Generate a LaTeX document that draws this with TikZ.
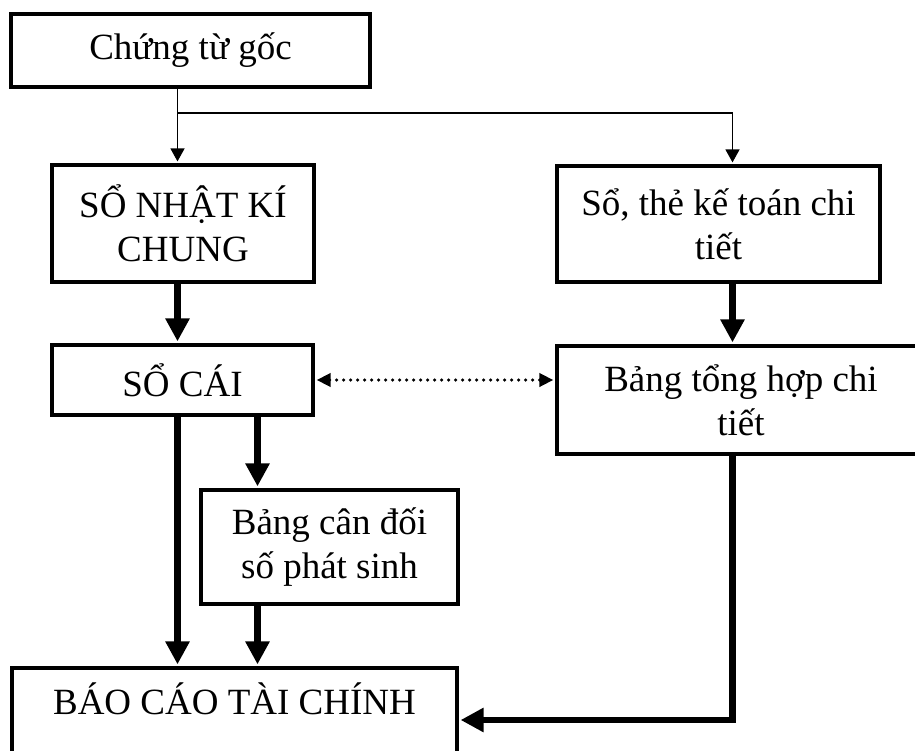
\documentclass[tikz,border=0pt]{standalone}
\usepackage{fontspec}
\setmainfont{Liberation Serif}
\usetikzlibrary{arrows.meta}
\begin{document}
\begin{tikzpicture}[x=1pt,y=-1pt,
  box/.style={draw, line width=3.6pt, rectangle, inner sep=0pt, align=center,
              font=\fontsize{37}{44}\selectfont},
  thinarrow/.style={line width=1.5pt, shorten >=1.8pt,
                    -{Triangle[length=13pt,width=14pt]}},
  thickarrow/.style={line width=6.5pt, shorten >=1.8pt,
                     -{Triangle[length=23pt,width=23pt]}},
  linkarrow/.style={line width=3.5pt, line cap=round, dash pattern=on 0pt off 7pt,
                    shorten >=1.8pt, shorten <=1.8pt,
                    {Triangle[length=14pt,width=13pt]}-{Triangle[length=14pt,width=13pt]}}]
\useasboundingbox (0,0) rectangle (915,751);
\clip (0,0) rectangle (915,751);

% columns and rows used by the connectors
\coordinate (c1) at (177.5,0);
\coordinate (c2) at (257.5,0);
\coordinate (c3) at (732.5,0);
\coordinate (split) at (0,113);
\coordinate (row) at (0,720);

% boxes
\node[box, minimum width=359pt, minimum height=73pt] (A) at (190.5,50.5) {Chứng từ gốc};
\node[box, minimum width=262pt, minimum height=117pt] (B) at (183,223.5) {SỔ NHẬT KÍ\\CHUNG};
\node[box, minimum width=323pt, minimum height=116pt] (C) at (718.5,224) {Sổ, thẻ kế toán chi\\tiết};
\node[box, minimum width=261pt, minimum height=70pt] (D) at (182.5,380) {SỔ CÁI};
\node[box, minimum width=368pt, minimum height=108pt] (E) at (741,400) {Bảng tổng hợp chi\\tiết};
\node[box, minimum width=257pt, minimum height=114pt] (F) at (329.5,547) {Bảng cân đối\\số phát sinh};
\node[box, minimum width=445pt, text height=46pt, text depth=86pt] (G) at (234.5,734) {BÁO CÁO TÀI CHÍNH};

% source documents feed both branches
\draw[thinarrow] (A.south -| c1) -- (B.north -| c1);
\draw[line width=1.5pt] (split -| c1) -- (split -| c3);
\draw[thinarrow] (split -| c3) -- (C.north -| c3);

% main flow
\draw[thickarrow] (B.south -| c1) -- (D.north -| c1);
\draw[thickarrow] (C.south -| c3) -- (E.north -| c3);
\draw[linkarrow] (D.east) -- (D.east -| E.west);
\draw[thickarrow] (D.south -| c1) -- (G.north -| c1);
\draw[thickarrow] (D.south -| c2) -- (F.north -| c2);
\draw[thickarrow] (F.south -| c2) -- (G.north -| c2);
\draw[thickarrow] (E.south -| c3) |- (G.east |- row);
\end{tikzpicture}
\end{document}
